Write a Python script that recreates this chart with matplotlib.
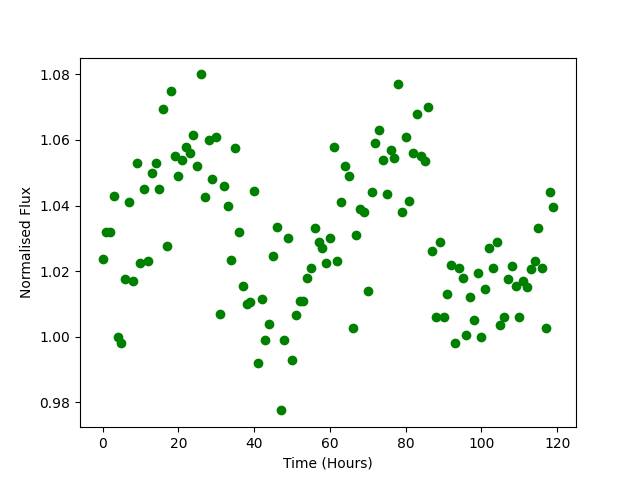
import matplotlib
matplotlib.use('Agg')
import matplotlib.pyplot as plt
import numpy as np

# hourly flux measurements, one per hour from 0 to 119
hours = np.arange(0, 120)
flux = [
    1.0237, 1.032, 1.032, 1.043, 1.000, 0.998, 1.0175, 1.041, 1.017, 1.053,
    1.0225, 1.045, 1.023, 1.050, 1.053, 1.045, 1.0695, 1.0275, 1.075, 1.055,
    1.049, 1.054, 1.058, 1.056, 1.0615, 1.052, 1.080, 1.0425, 1.060, 1.048,
    1.061, 1.007, 1.046, 1.040, 1.0235, 1.0575, 1.032, 1.0155, 1.010, 1.0105,
    1.0445, 0.992, 1.0115, 0.999, 1.004, 1.0245, 1.0335, 0.9775, 0.999, 1.030,
    0.993, 1.0065, 1.011, 1.011, 1.018, 1.021, 1.033, 1.029, 1.027, 1.0225,
    1.030, 1.058, 1.023, 1.041, 1.052, 1.049, 1.0025, 1.031, 1.039, 1.038,
    1.014, 1.044, 1.059, 1.063, 1.054, 1.0435, 1.057, 1.0545, 1.077, 1.038,
    1.061, 1.0415, 1.056, 1.068, 1.055, 1.0535, 1.070, 1.026, 1.006, 1.029,
    1.006, 1.013, 1.022, 0.998, 1.021, 1.018, 1.0005, 1.012, 1.005, 1.0195,
    1.000, 1.0145, 1.027, 1.021, 1.029, 1.0035, 1.006, 1.0175, 1.0215, 1.0155,
    1.006, 1.017, 1.015, 1.0205, 1.023, 1.033, 1.021, 1.0025, 1.044, 1.0395,
]

plt.figure(figsize=(6.4, 4.8), dpi=100)
plt.plot(hours, flux, 'o', color='green')
plt.xlabel('Time (Hours)')
plt.ylabel('Normalised Flux')
plt.savefig('out.png')
